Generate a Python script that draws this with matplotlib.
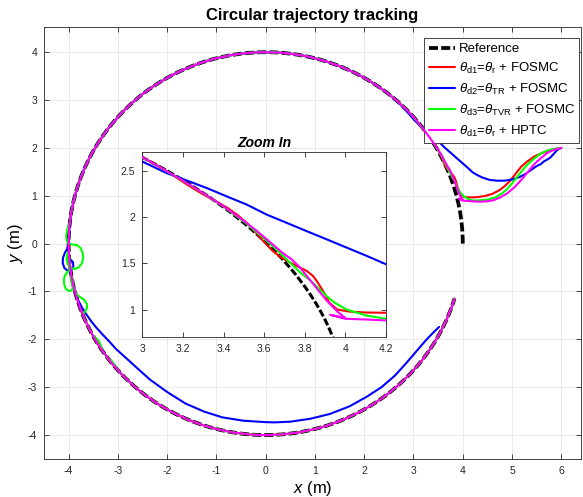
import numpy as np
import matplotlib
matplotlib.use("Agg")
import matplotlib.pyplot as plt
from matplotlib.patches import Arc

plt.rcParams["font.family"] = ["Liberation Sans", "DejaVu Sans"]
plt.rcParams["mathtext.fontset"] = "custom"
plt.rcParams["mathtext.rm"] = "Liberation Sans"
plt.rcParams["mathtext.it"] = "Liberation Sans:italic"
plt.rcParams["mathtext.bf"] = "Liberation Sans:bold"
plt.rcParams["axes.unicode_minus"] = False

# ---------------- data ----------------
# Reference: circle of radius 4 m centred at the origin, counter-clockwise
ref_radius = 4.0
ref_start_deg = 0.0
ref_end_deg = 343.3

# theta_d1 = theta_r + FOSMC (red)
red_x = [6.00, 5.80, 5.60, 5.45, 5.30, 5.18, 5.05, 4.95, 4.85, 4.75,
         4.60, 4.45, 4.30, 4.20, 4.10, 4.02, 3.96, 3.92, 3.90, 3.88,
         3.86, 3.84, 3.81, 3.77, 3.72, 3.68, 3.64, 3.60, 3.56, 3.52,
         3.47, 3.42, 3.37, 3.32, 3.27, 3.22, 3.17, 3.12, 3.06, 3.00]
red_y = [2.00, 1.96, 1.89, 1.82, 1.71, 1.60, 1.43, 1.30, 1.20, 1.12,
         1.04, 0.995, 0.972, 0.965, 0.968, 0.978, 1.000, 1.076, 1.164, 1.236,
         1.306, 1.364, 1.417, 1.461, 1.518, 1.568, 1.639, 1.730, 1.830, 1.925,
         2.020, 2.098, 2.162, 2.220, 2.283, 2.351, 2.423, 2.497, 2.576, 2.646]
red_end_deg = 343.3

# theta_d2 = theta_TR + FOSMC (blue)
blue_x1 = [6.00, 5.92, 5.85, 5.78, 5.72, 5.65, 5.58, 5.50, 5.40, 5.28,
           5.15, 5.00, 4.85, 4.70, 4.55, 4.40, 4.30, 4.20, 4.105, 4.006,
           3.908, 3.809, 3.710, 3.612, 3.514, 3.415, 3.317, 3.218, 3.120, 3.000,
           2.850, 2.700, 2.517]
blue_y1 = [2.00, 1.96, 1.88, 1.80, 1.76, 1.72, 1.66, 1.62, 1.55, 1.46,
           1.39, 1.34, 1.315, 1.315, 1.33, 1.38, 1.43, 1.49, 1.58, 1.67,
           1.759, 1.848, 1.938, 2.027, 2.135, 2.224, 2.314, 2.396, 2.475, 2.600,
           2.780, 2.940, 3.109]
blue_x2 = [-3.998, -4.000, -4.030, -4.080, -4.115, -4.120, -4.085, -4.015, -3.945, -3.905,
           -3.910, -3.955, -3.990, -3.975, -3.929, -3.893, -3.857, -3.790, -3.720, -3.640,
           -3.550, -3.450, -3.310, -3.170, -3.040, -2.900, -2.770, -2.600, -2.350, -2.000,
           -1.630, -1.250, -0.880, -0.450, 0.000, 0.180, 0.500, 0.900, 1.300, 1.700,
           2.050, 2.350, 2.620, 2.850, 3.050, 3.250, 3.400, 3.520]
blue_y2 = [0.140, 0.000, -0.110, -0.200, -0.300, -0.410, -0.510, -0.570, -0.550, -0.480,
           -0.390, -0.340, -0.400, -0.550, -0.750, -0.920, -1.060, -1.220, -1.350, -1.480,
           -1.610, -1.740, -1.900, -2.050, -2.200, -2.330, -2.450, -2.610, -2.840, -3.100,
           -3.340, -3.510, -3.630, -3.700, -3.730, -3.735, -3.720, -3.660, -3.560, -3.400,
           -3.200, -3.000, -2.760, -2.500, -2.260, -2.020, -1.860, -1.740]
blue_end_deg = None

# theta_d3 = theta_TVR + FOSMC (green)
green_x1 = [6.00, 5.86, 5.70, 5.58, 5.45, 5.31, 5.20, 5.10, 5.00, 4.90,
            4.80, 4.65, 4.50, 4.35, 4.20, 4.105, 4.006, 3.95, 3.91, 3.87,
            3.83, 3.78, 3.72, 3.65, 3.58, 3.50, 3.40, 3.30, 3.20, 3.10,
            3.00, 2.90]
green_y1 = [2.00, 1.98, 1.94, 1.88, 1.78, 1.65, 1.52, 1.39, 1.26, 1.14,
            1.05, 0.96, 0.92, 0.905, 0.900, 0.935, 1.000, 1.070, 1.140, 1.225,
            1.310, 1.397, 1.524, 1.670, 1.807, 1.951, 2.113, 2.257, 2.392, 2.520,
            2.643, 2.755]
green_x2 = [-3.975, -4.005, -4.035, -4.050, -4.040, -4.000, -3.920, -3.830, -3.760, -3.715,
            -3.705, -3.730, -3.790, -3.870, -3.950, -4.010, -4.040, -4.035, -4.000, -3.985,
            -3.978, -3.985, -4.030, -4.075, -4.095, -4.090, -4.060, -4.000, -3.940, -3.905,
            -3.905, -3.930, -3.965, -3.935, -3.878, -3.840, -3.760, -3.680, -3.630, -3.625,
            -3.660, -3.716, -3.625, -3.515, -3.470, -3.410, -3.370, -3.340, -3.320, -3.300,
            -3.195, -3.120, -3.070, -3.000]
green_y2 = [0.448, 0.360, 0.260, 0.150, 0.060, 0.000, -0.020, -0.030, -0.090, -0.190,
            -0.300, -0.410, -0.490, -0.530, -0.510, -0.450, -0.350, -0.240, -0.160, -0.300,
            -0.420, -0.560, -0.600, -0.660, -0.750, -0.850, -0.940, -0.990, -0.980, -0.900,
            -0.800, -0.700, -0.660, -0.820, -0.980, -1.060, -1.120, -1.180, -1.260, -1.340,
            -1.410, -1.480, -1.690, -1.909, -1.950, -2.010, -2.070, -2.150, -2.220, -2.261,
            -2.407, -2.460, -2.530, -2.646]
green_end_deg = 343.3

# theta_d1 = theta_r + HPTC (magenta)
mag_x = [6.00, 5.85, 5.72, 5.60, 5.45, 5.30, 5.18, 5.05, 4.90, 4.75,
         4.63, 4.50, 4.36, 4.20, 4.105, 4.000, 3.925, 4.000, 3.985, 3.965,
         3.940, 3.908, 3.875, 3.842, 3.809, 3.776, 3.735, 3.694, 3.630, 3.560,
         3.480, 3.400, 3.300, 3.200, 3.100, 3.000]
mag_y = [2.00, 1.96, 1.90, 1.80, 1.66, 1.47, 1.32, 1.18, 1.05, 0.96,
         0.91, 0.885, 0.876, 0.882, 0.892, 0.900, 0.943, 0.908, 0.935, 0.970,
         1.025, 1.097, 1.186, 1.276, 1.365, 1.455, 1.544, 1.606, 1.727, 1.857,
         1.992, 2.115, 2.259, 2.393, 2.523, 2.646]
mag_end_deg = 343.3

labels = ["Reference",
          r"$\theta_{\mathrm{d1}}$=$\theta_{\mathrm{r}}$ + FOSMC",
          r"$\theta_{\mathrm{d2}}$=$\theta_{\mathrm{TR}}$ + FOSMC",
          r"$\theta_{\mathrm{d3}}$=$\theta_{\mathrm{TVR}}$ + FOSMC",
          r"$\theta_{\mathrm{d1}}$=$\theta_{\mathrm{r}}$ + HPTC"]

x_ticks = [-4, -3, -2, -1, 0, 1, 2, 3, 4, 5, 6]
y_ticks = [-4, -3, -2, -1, 0, 1, 2, 3, 4]
zoom_x_ticks = [3, 3.2, 3.4, 3.6, 3.8, 4, 4.2]
zoom_x_labels = ["3", "3.2", "3.4", "3.6", "3.8", "4", "4.2"]
zoom_y_ticks = [1, 1.5, 2, 2.5]
zoom_y_labels = ["1", "1.5", "2", "2.5"]

# ---------------- styling ----------------
LW = 1.5
REF_LW = 2.7
REF_DASH = (0, (2.4, 0.85))
AX_COL = "#262626"
tracks = [
    ([(red_x, red_y)], red_end_deg, "#ff0000", 3),
    ([(blue_x1, blue_y1), (blue_x2, blue_y2)], blue_end_deg, "#0000ff", 4),
    ([(green_x1, green_y1), (green_x2, green_y2)], green_end_deg, "#00ff00", 5),
    ([(mag_x, mag_y)], mag_end_deg, "#ff00ff", 6),
]


def polar_deg(x, y):
    return np.degrees(np.arctan2(y, x)) % 360.0


def draw_all(ax, ref_lw):
    """Reference arc plus each tracked path; stretches that sit on the
    reference circle are drawn as arcs joining the recorded segments."""
    handles = []
    ax.add_patch(Arc((0, 0), 2 * ref_radius, 2 * ref_radius,
                     theta1=ref_start_deg, theta2=ref_end_deg,
                     edgecolor="k", lw=ref_lw, linestyle=REF_DASH,
                     capstyle="butt", zorder=2))
    h_ref, = ax.plot([], [], color="k", lw=REF_LW, linestyle=REF_DASH)
    handles.append(h_ref)
    for segs, end_deg, col, z in tracks:
        first = None
        for i, (xs, ys) in enumerate(segs):
            ln, = ax.plot(xs, ys, color=col, lw=LW, zorder=z,
                          solid_capstyle="round", solid_joinstyle="round")
            if first is None:
                first = ln
            a0 = polar_deg(xs[-1], ys[-1])
            if i + 1 < len(segs):
                a1 = polar_deg(segs[i + 1][0][0], segs[i + 1][1][0])
            elif end_deg is not None:
                a1 = end_deg
            else:
                continue
            ax.add_patch(Arc((0, 0), 2 * ref_radius, 2 * ref_radius,
                             theta1=a0, theta2=a1, edgecolor=col, lw=LW,
                             capstyle="round", zorder=z))
        handles.append(first)
    return handles


def style_axes(ax):
    ax.tick_params(direction="in", top=True, right=True, length=3.5, width=0.6,
                   color=AX_COL, labelcolor=AX_COL, labelsize=7.5, pad=5)
    for s in ax.spines.values():
        s.set_color(AX_COL)
        s.set_linewidth(0.6)


fig = plt.figure(figsize=(5.83, 4.97), dpi=100)
ax = fig.add_axes([44 / 583, 1 - 459 / 497, (581 - 44) / 583, (459 - 27.3) / 497])
handles = draw_all(ax, REF_LW)

ax.set_xlim(-4.5, 6.4)
ax.set_ylim(-4.5, 4.52)
ax.set_xticks(x_ticks)
ax.set_yticks(y_ticks)
ax.grid(True, color="#e6e6e6", lw=0.6)
ax.set_axisbelow(True)
style_axes(ax)
ax.set_title("Circular trajectory tracking", fontsize=12, fontweight="bold", pad=5)
ax.set_xlabel(r"$x$ (m)", fontsize=12, labelpad=2)
ax.set_ylabel(r"$y$ (m)", fontsize=12, labelpad=2)

leg = ax.legend(handles, labels, loc="upper right", fontsize=9.5,
                bbox_to_anchor=(0.9968, 0.9745), borderaxespad=0.0,
                fancybox=False, framealpha=1, edgecolor=AX_COL,
                handlelength=2.0, handletextpad=0.25, labelspacing=0.44,
                borderpad=0.35)
leg.get_frame().set_linewidth(0.6)

# zoomed view around the junction with the reference
axz = fig.add_axes([142.3 / 583, 1 - 337.3 / 497, (386 - 142.3) / 583, (337.3 - 152.3) / 497])
draw_all(axz, 2.2)
axz.set_xlim(3, 4.2)
axz.set_ylim(0.7, 2.7)
axz.set_xticks(zoom_x_ticks)
axz.set_xticklabels(zoom_x_labels)
axz.set_yticks(zoom_y_ticks)
axz.set_yticklabels(zoom_y_labels)
style_axes(axz)
axz.set_title("Zoom In", fontsize=10, fontweight="bold", fontstyle="italic", pad=4)

fig.savefig("out.png", dpi=100)
